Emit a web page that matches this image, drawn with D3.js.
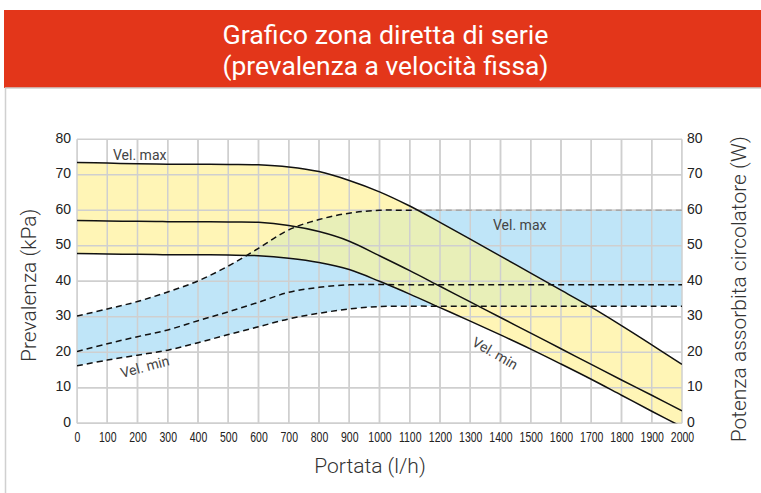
<!DOCTYPE html>
<html>
<head>
<meta charset="utf-8">
<title>Grafico zona diretta di serie</title>
<script src="https://d3js.org/d3.v7.min.js"></script>
<style>
  body { margin: 0; background: #fff; }
  svg { display: block; font-family: Roboto, "DejaVu Sans", sans-serif; }
  .grid line { stroke: #cfcfcf; stroke-width: 1.5; }
  .tick-lbl { fill: #222; }
  .axis-title { fill: #333; font-weight: 300; font-size: 21px; }
  .curve-label { fill: #444; font-size: 14px; }
</style>
</head>
<body>
<div id="chart"></div>
<script>
// flow rate (l/h)
const flow = [0, 100, 200, 300, 400, 500, 600, 700, 800, 900, 1000,
              1100, 1200, 1300, 1400, 1500, 1600, 1700, 1800, 1900, 2000];

// pump head (kPa) at the three fixed speeds
const headMax = [73.5, 73.3, 73.1, 73.0, 73.0, 72.9, 72.8, 72.2, 70.9, 68.4, 65.2,
                 61.2, 56.6, 51.9, 47.1, 42.3, 37.5, 32.7, 27.5, 22.1, 16.6];
const headMid = [57.1, 57.0, 56.9, 56.8, 56.8, 56.7, 56.6, 55.7, 54.0, 51.3, 47.2,
                 43.0, 38.6, 34.2, 29.8, 25.4, 21.0, 16.6, 12.2, 7.9, 3.5];
const headMin = [47.8, 47.7, 47.6, 47.5, 47.5, 47.4, 47.2, 46.5, 45.3, 43.3, 40.0,
                 36.4, 32.6, 28.8, 24.9, 20.9, 16.7, 12.4, 7.9, 3.4, -1.0];

// absorbed power (W), right axis
const powerMax = [30.2, 32.2, 34.3, 37.0, 40.1, 44.3, 49.3, 54.5, 57.4, 59.2, 60.0,
                  60, 60, 60, 60, 60, 60, 60, 60, 60, 60];
const powerMid = [20.2, 22.4, 24.4, 26.3, 28.9, 31.4, 34.1, 36.9, 38.3, 39.0, 39.1,
                  39, 39, 39, 39, 39, 39, 39, 39, 39, 39];
const powerMin = [16.2, 17.8, 19.2, 20.6, 22.7, 25.0, 27.2, 29.4, 31.0, 32.2, 32.9,
                  33, 33, 33, 33, 33, 33, 33, 33, 33, 33];

// max power line is drawn dark up to where it meets the max head curve
const powerMaxDarkUntil = 1120;

const xTicks = d3.range(0, 2001, 100);
const yTicks = d3.range(0, 81, 10);

const titleLines = ["Grafico zona diretta di serie", "(prevalenza a velocità fissa)"];

const W = 761, H = 493;
const svg = d3.select("#chart").append("svg").attr("width", W).attr("height", H);

// header banner + frame
svg.append("rect").attr("x", 4).attr("y", 10).attr("width", W - 4).attr("height", 78)
  .attr("fill", "#e3361a");
svg.append("rect").attr("x", 5.5).attr("y", 88).attr("width", W + 10).attr("height", 20 + H)
  .attr("fill", "none").attr("stroke", "#d0d0d0").attr("stroke-width", 1.5);

svg.selectAll(".title").data(titleLines).join("text")
  .attr("x", 385.5).attr("y", (d, i) => 44 + i * 31)
  .attr("text-anchor", "middle").attr("fill", "#fff")
  .attr("font-size", 25).attr("font-weight", 400)
  .attr("textLength", 326).attr("lengthAdjust", "spacingAndGlyphs")
  .text(d => d);

const x = d3.scaleLinear().domain([0, 2000]).range([77, 682]);
const y = d3.scaleLinear().domain([0, 80]).range([423.3, 139.3]);

const drawGrid = g => {
  g.attr("class", "grid");
  g.selectAll(".v").data(xTicks).join("line").attr("class", "v")
    .attr("x1", d => x(d)).attr("x2", d => x(d)).attr("y1", y(0)).attr("y2", y(80));
  g.selectAll(".h").data(yTicks).join("line").attr("class", "h")
    .attr("x1", x(0)).attr("x2", x(2000)).attr("y1", d => y(d)).attr("y2", d => y(d));
};
svg.append("g").call(drawGrid);

const pts = arr => flow.map((f, i) => [f, arr[i]]);
const curve = d3.curveCatmullRom.alpha(0.5);

const areaBetween = (top, bottom) => d3.area()
  .x((d, i) => x(flow[i]))
  .y0((d, i) => y(bottom[i]))
  .y1((d, i) => y(top[i]))
  .curve(curve)(flow);

const line = d3.line().x(d => x(d[0])).y(d => y(d[1])).curve(curve);

const defs = svg.append("defs");
const clipRect = (id, from, to) => defs.append("clipPath").attr("id", id).append("rect")
  .attr("x", x(from)).attr("y", y(80)).attr("width", x(to) - x(from)).attr("height", y(0) - y(80));
clipRect("plotClip", 0, 2000);
clipRect("darkClip", 0, powerMaxDarkUntil);
clipRect("lightClip", powerMaxDarkUntil, 2000);
defs.append("clipPath").attr("id", "blueClip").append("path")
  .attr("d", areaBetween(powerMax, powerMin));

const plot = svg.append("g").attr("clip-path", "url(#plotClip)");

// zones
plot.append("path").attr("d", areaBetween(headMax, headMin)).attr("fill", "#fff5b6");
plot.append("path").attr("d", areaBetween(powerMax, powerMin)).attr("fill", "#bfe5f8");
plot.append("g").attr("clip-path", "url(#blueClip)")
  .append("path").attr("d", areaBetween(headMax, headMin)).attr("fill", "#e8efb8");

// grid again over the fills
plot.append("g").call(drawGrid);

// power (dashed)
const dashed = (arr, color, clip) => {
  const p = plot.append("path").attr("d", line(pts(arr)))
    .attr("fill", "none").attr("stroke", color).attr("stroke-width", 1.5).attr("stroke-dasharray", "6,4");
  if (clip) p.attr("clip-path", `url(#${clip})`);
};
dashed(powerMax, "#a8a8a8", "lightClip");
dashed(powerMax, "#111", "darkClip");
dashed(powerMid, "#111");
dashed(powerMin, "#111");

// head (solid)
[headMax, headMid, headMin].forEach(arr => {
  plot.append("path").attr("d", line(pts(arr)))
    .attr("fill", "none").attr("stroke", "#111").attr("stroke-width", 1.5);
});

// axes
const xAxis = svg.append("g").attr("transform", `translate(0,${y(0)})`)
  .call(d3.axisBottom(x).tickValues(xTicks).tickFormat(d3.format("d")).tickSize(0).tickPadding(0));
xAxis.select(".domain").remove();
xAxis.selectAll("text").attr("class", "tick-lbl").attr("font-size", 15)
  .attr("y", 19).attr("dy", 0).attr("transform", "scale(0.7,1)");

const yLeft = svg.append("g").attr("transform", `translate(${x(0)},0)`)
  .call(d3.axisLeft(y).tickValues(yTicks).tickSize(0).tickPadding(6));
yLeft.select(".domain").remove();
yLeft.selectAll("text").attr("class", "tick-lbl").attr("font-size", 14).attr("dy", "0.2em");

const yRight = svg.append("g").attr("transform", `translate(${x(2000)},0)`)
  .call(d3.axisRight(y).tickValues(yTicks).tickSize(0).tickPadding(5));
yRight.select(".domain").remove();
yRight.selectAll("text").attr("class", "tick-lbl").attr("font-size", 14).attr("dy", "0.2em");

// axis titles
svg.append("text").attr("class", "axis-title").attr("text-anchor", "middle")
  .attr("transform", `translate(36,${(y(0) + y(80)) / 2 + 4}) rotate(-90)`).text("Prevalenza (kPa)");
svg.append("text").attr("class", "axis-title").attr("text-anchor", "middle")
  .attr("x", 370).attr("y", 473).text("Portata (l/h)");
svg.append("text").attr("class", "axis-title").attr("text-anchor", "middle")
  .attr("transform", `translate(746,${(y(0) + y(80)) / 2 + 8}) rotate(-90)`).text("Potenza assorbita circolatore (W)");

// curve labels
svg.append("text").attr("class", "curve-label").attr("x", 113).attr("y", 160).text("Vel. max");
svg.append("text").attr("class", "curve-label").attr("x", 493).attr("y", 230).text("Vel. max");
svg.append("text").attr("class", "curve-label")
  .attr("transform", "translate(122,378) rotate(-15)").text("Vel. min");
svg.append("text").attr("class", "curve-label")
  .attr("transform", "translate(471,345) rotate(30)").text("Vel. min");
</script>
</body>
</html>
